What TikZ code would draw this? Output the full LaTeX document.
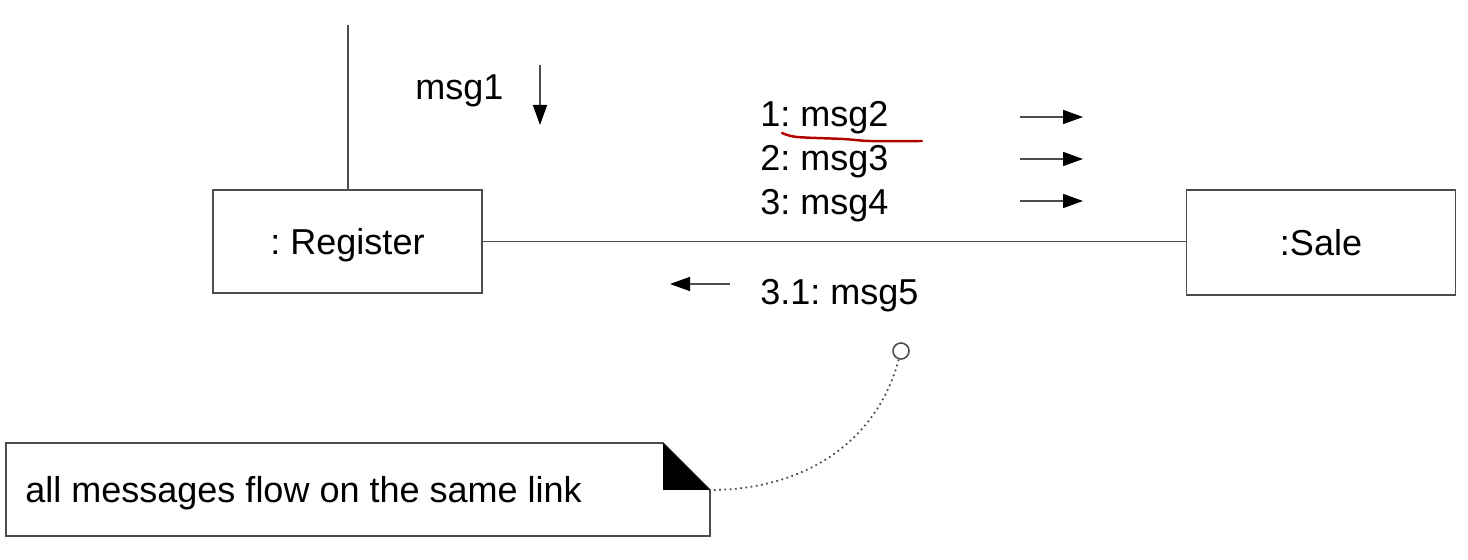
\documentclass[tikz,border=0pt]{standalone}
\usepackage{fontspec}
\setmainfont{Liberation Sans}
\usetikzlibrary{arrows.meta,positioning,calc}
\frenchspacing

\begin{document}
\begin{tikzpicture}[x=0.02cm,y=-0.02cm,
  every node/.style={font=\fontsize{20.5}{24}\selectfont},
  object/.style={draw=black!70,line width=0.9pt,minimum width=5.38cm,minimum height=2.06cm,inner sep=0pt,text height=0.54cm,text depth=0pt},
  msg/.style={anchor=base west,inner sep=0pt},
  link/.style={draw=black!70,line width=0.9pt},
  flow/.style={draw=black!70,line width=0.9pt,-{Triangle[length=0.4cm,width=0.28cm,color=black]}}]
\useasboundingbox (0,0) rectangle (1468,560);
% objects and their link
\node[object] (reg) at (347.5,241.5) {: Register};
\node[object,minimum height=2.1cm] (sale) at (1321,242.5) {:Sale};
\coordinate (top) at (348,25);
\draw[link] (top) -- (top |- reg.north);
\draw[link] (reg.east) -- (reg.east -| sale.west);
% messages
\node[msg] (m1) at (415,100) {msg1};
\node[msg] (m2) at (760,127) {1: msg2};
\node[msg] (m3) at (760,171) {2: msg3};
\node[msg] (m4) at (760,215) {3: msg4};
\node[msg] (m5) at (760,305) {3.1: msg5};
\coordinate (d1) at (540,65);
\coordinate (d2) at (540,125);
\draw[flow] (d1) -- (d2);
\foreach \y in {117,159,201}
  \draw[flow] (1020,\y) -- (1083,\y);
\coordinate (l1) at (730,284);
\coordinate (l2) at (670,284);
\draw[flow] (l1) -- (l2);
\draw[red!70!black,line width=1.4pt,line cap=round] plot[smooth] coordinates {(782,133) (797,137) (843,139) (870,141) (922,141)};
% note
\node[circle,draw=black!70,line width=0.9pt,minimum size=0.32cm,inner sep=0pt] (ring) at (901,351) {};
\coordinate (nw) at (6,443);
\coordinate (fold) at (663,443);
\coordinate (corner) at (710,490);
\coordinate (se) at (710,536);
\draw[link] (nw) -- (fold) -- (corner) -- (se) -- (nw |- se) -- cycle;
\fill (fold) -- (fold |- corner) -- (corner) -- cycle;
\node[msg] (note) at (25,502) {all messages flow on the same link};
\draw[black!70,dotted,line width=1pt] (ring) to[out=-105,in=0] (corner);
\end{tikzpicture}
\end{document}
